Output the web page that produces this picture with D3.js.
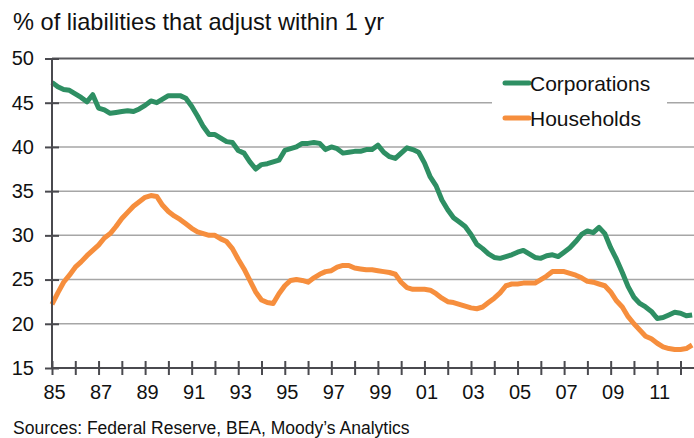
<!DOCTYPE html>
<html>
  <head>
    <meta charset="utf-8">
    <script src="https://d3js.org/d3.v7.min.js"></script>
    <title>Liabilities that adjust within 1 yr</title>
    <style type="text/css">
body {
  margin: 0;
  background-color: #FFF;
}
svg {
  display: block;
  font-family: 'Liberation Sans', Arial, sans-serif;
}
.title {
  font-size: 23.6px;
  fill: #111;
}
.source {
  font-size: 17.5px;
  fill: #111;
}
.axis text {
  font-size: 20px;
  fill: #111;
  font-family: 'Liberation Sans', Arial, sans-serif;
}
.axis path, .axis line {
  stroke: #4a4a4f;
  stroke-width: 2px;
}
.grid line {
  stroke: #a6a6a6;
  stroke-width: 1.5px;
}
.series {
  fill: none;
  stroke-width: 5px;
  stroke-linejoin: round;
}
.legend text {
  font-size: 21px;
  fill: #111;
}
    </style>
  </head>
  <body>
<svg></svg>
<script type="text/javascript">
// quarterly, starting 1985 Q1
const startYear = 1985;
const corporations = [
  47.3, 46.8, 46.5, 46.4,  46.0, 45.6, 45.1, 45.9,  44.4, 44.2, 43.8, 43.9,
  44.0, 44.1, 44.0, 44.3,  44.7, 45.2, 45.0, 45.4,  45.8, 45.8, 45.8, 45.5,
  44.6, 43.5, 42.3, 41.4,  41.4, 41.0, 40.6, 40.5,  39.6, 39.3, 38.3, 37.5,
  38.0, 38.1, 38.3, 38.5,  39.6, 39.8, 40.0, 40.4,  40.4, 40.5, 40.4, 39.7,
  40.0, 39.8, 39.3, 39.4,  39.5, 39.5, 39.7, 39.7,  40.2, 39.4, 38.9, 38.7,
  39.3, 39.9, 39.7, 39.4,  38.2, 36.6, 35.6, 34.0,  32.9, 32.0, 31.5, 31.0,
  30.1, 29.0, 28.5, 27.9,  27.5, 27.4, 27.6, 27.8,  28.1, 28.3, 27.9, 27.5,
  27.4, 27.7, 27.8, 27.6,  28.1, 28.6, 29.3, 30.1,  30.5, 30.3, 30.9, 30.2,
  28.6, 27.3, 25.8, 24.2,  23.0, 22.3, 21.9, 21.4,  20.6, 20.7, 21.0, 21.3,
  21.2, 20.9, 21.0
];
const households = [
  22.2, 23.5, 24.7, 25.5,  26.4, 27.0, 27.7, 28.3,  28.9, 29.7, 30.2, 31.0,
  31.9, 32.6, 33.3, 33.8,  34.3, 34.5, 34.4, 33.4,  32.7, 32.2, 31.8, 31.3,
  30.8, 30.4, 30.2, 30.0,  30.0, 29.6, 29.3, 28.5,  27.3, 26.2, 24.9, 23.6,
  22.7, 22.4, 22.3, 23.4,  24.3, 24.9, 25.0, 24.9,  24.7, 25.2, 25.6, 25.9,
  26.0, 26.4, 26.6, 26.6,  26.3, 26.2, 26.1, 26.1,  26.0, 25.9, 25.8, 25.6,
  24.7, 24.1, 23.9, 23.9,  23.9, 23.8, 23.4, 22.9,  22.5, 22.4, 22.2, 22.0,
  21.8, 21.7, 21.9, 22.4,  22.9, 23.5, 24.3, 24.5,  24.5, 24.6, 24.6, 24.6,
  25.0, 25.4, 25.9, 25.9,  25.9, 25.7, 25.5, 25.2,  24.8, 24.7, 24.5, 24.3,
  23.6, 22.6, 21.9, 20.8,  20.0, 19.3, 18.6, 18.3,  17.8, 17.4, 17.2, 17.1,
  17.1, 17.2, 17.6
];
const yTicks = [15, 20, 25, 30, 35, 40, 45, 50];
const xTicks = d3.range(1985, 2013);
const xLabels = ["85", "87", "89", "91", "93", "95", "97", "99", "01", "03", "05", "07", "09", "11"];
const seriesNames = ["Corporations", "Households"];
const colors = ["#2e8f63", "#f68e3d"];

const width = 694, height = 438;
const plotLeft = 52, plotRight = 694, plotTop = 58.5, plotBottom = 368;

const svg = d3.select("svg")
    .attr("width", width)
    .attr("height", height);

const x = d3.scaleLinear().domain([1985, 2012.58]).range([plotLeft, plotRight]);
const y = d3.scaleLinear().domain([15, 50]).range([plotBottom, plotTop]);

svg.append("text")
    .attr("class", "title")
    .attr("x", 13)
    .attr("y", 30)
    .text("% of liabilities that adjust within 1 yr");

svg.append("text")
    .attr("class", "source")
    .attr("x", 13)
    .attr("y", 434)
    .text("Sources: Federal Reserve, BEA, Moody\u2019s Analytics");

svg.append("g")
    .attr("class", "grid")
  .selectAll("line")
  .data(yTicks.filter(d => d > 15 && d < 50))
  .enter().append("line")
    .attr("x1", plotLeft)
    .attr("x2", plotRight)
    .attr("y1", d => y(d))
    .attr("y2", d => y(d));

// top border line
svg.append("line")
    .attr("x1", plotLeft).attr("x2", plotRight)
    .attr("y1", y(50)).attr("y2", y(50))
    .attr("stroke", "#5a5a5e")
    .attr("stroke-width", 2);

// legend box hides the grid behind it
svg.append("rect")
    .attr("x", 492)
    .attr("y", 62)
    .attr("width", 175)
    .attr("height", 76)
    .attr("fill", "#FFF");

const line = d3.line()
    .x((d, i) => x(startYear + i / 4))
    .y(d => y(d));

svg.append("g")
  .selectAll("path")
  .data([corporations, households])
  .enter().append("path")
    .attr("class", "series")
    .attr("stroke", (d, i) => colors[i])
    .attr("d", line);

const yAxis = svg.append("g")
    .attr("class", "axis")
    .attr("transform", "translate(" + plotLeft + ",0)")
    .call(d3.axisLeft(y).tickValues(yTicks).tickSize(7).tickPadding(11));
yAxis.selectAll(".tick line").attr("x2", 7).attr("x1", -7);
yAxis.select(".domain").attr("d", "M0," + plotTop + "V" + plotBottom);

const xAxis = svg.append("g")
    .attr("class", "axis")
    .attr("transform", "translate(0," + plotBottom + ")")
    .call(d3.axisBottom(x).tickValues(xTicks).tickSize(7)
      .tickFormat(d => (d % 2 === 1) ? xLabels[(d - 1985) / 2] : ""));
xAxis.selectAll(".tick line").attr("y1", -7).attr("y2", 7);
xAxis.selectAll(".tick text").attr("y", 17).attr("dx", 2);
xAxis.select(".domain").attr("d", "M" + plotLeft + ",0H" + plotRight);

const legend = svg.append("g")
    .attr("class", "legend")
  .selectAll("g")
  .data(seriesNames)
  .enter().append("g")
    .attr("transform", (d, i) => "translate(505," + (83 + i * 35) + ")");

legend.append("line")
    .attr("x1", 0).attr("x2", 24)
    .attr("stroke", (d, i) => colors[i])
    .attr("stroke-width", 5)
    .attr("stroke-linecap", "round");

legend.append("text")
    .attr("x", 25)
    .attr("dy", "0.36em")
    .text(d => d);
</script>
  </body>
</html>
